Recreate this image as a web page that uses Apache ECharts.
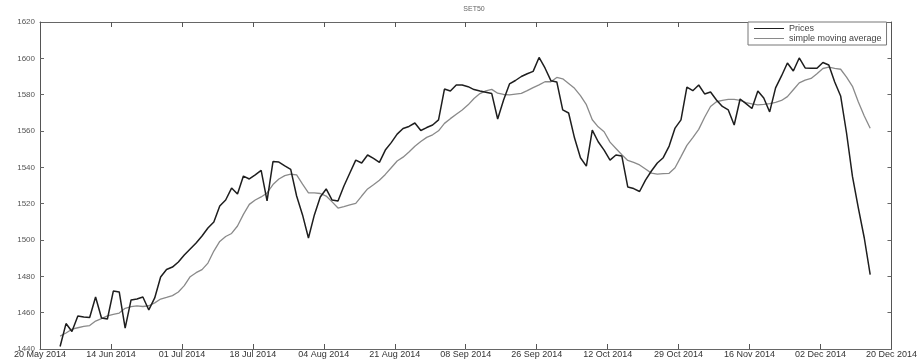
<!DOCTYPE html>
<html>
<head>
<meta charset="utf-8">
<script src="https://cdn.jsdelivr.net/npm/echarts@6/dist/echarts.min.js"></script>
<style>
html,body{margin:0;padding:0;background:#fff;}
#chart{width:920px;height:359px;}
</style>
</head>
<body>
<div id="chart"></div>
<script>
const TITLE = 'SET50';
const X_TICK_LABELS = ['20 May 2014','14 Jun 2014','01 Jul 2014','18 Jul 2014','04 Aug 2014','21 Aug 2014','08 Sep 2014','26 Sep 2014','12 Oct 2014','29 Oct 2014','16 Nov 2014','02 Dec 2014','20 Dec 2014'];
const SERIES_NAMES = ['Prices', 'simple moving average'];
const prices = [
1441.4,1454.0,1449.6,1458.2,1457.6,1457.3,1468.6,1457.1,1456.5,1471.9,
1471.4,1451.5,1467.0,1467.5,1468.6,1461.5,1468.1,1479.6,1483.8,1485.1,
1487.9,1491.7,1495.0,1498.3,1502.2,1506.6,1509.9,1518.7,1522.0,1528.6,
1525.3,1535.2,1533.6,1535.8,1538.3,1521.5,1543.2,1542.9,1540.8,1538.9,
1524.2,1513.8,1501.1,1513.8,1523.7,1528.1,1522.0,1521.5,1529.7,1536.9,
1544.0,1542.4,1546.8,1544.9,1542.7,1549.5,1553.6,1558.3,1561.4,1562.5,
1564.4,1560.3,1561.9,1563.3,1566.1,1583.1,1582.0,1585.3,1585.3,1584.4,
1582.8,1582.0,1581.3,1580.6,1566.6,1577.1,1585.9,1587.8,1590.0,1591.5,
1592.8,1600.5,1594.7,1587.7,1587.0,1571.6,1569.9,1556.1,1545.3,1540.7,
1560.5,1554.1,1549.5,1544.0,1546.8,1546.2,1529.2,1528.3,1526.7,1533.0,
1538.0,1542.4,1545.3,1551.7,1561.6,1566.1,1584.2,1582.2,1585.3,1580.4,
1581.5,1577.1,1573.5,1571.6,1563.3,1577.6,1575.1,1572.4,1582.0,1578.2,
1570.5,1583.7,1590.3,1597.4,1593.0,1600.2,1594.7,1594.5,1594.5,1597.7,
1596.3,1587.0,1579.3,1558.9,1535.0,1517.6,1501.1,1481.0
];
const movingAverage = [
1447.1,1448.8,1450.9,1451.7,1452.4,1452.9,1455.4,1456.7,1458.2,1459.0,
1459.8,1462.4,1463.3,1463.7,1463.4,1463.8,1465.4,1467.5,1468.4,1469.4,
1471.4,1474.9,1479.8,1482.0,1483.7,1487.3,1493.9,1499.2,1501.9,1503.6,
1507.7,1514.1,1519.6,1522.0,1523.7,1525.9,1530.5,1533.6,1535.4,1536.2,
1535.8,1530.8,1526.0,1525.9,1525.6,1524.2,1521.0,1517.6,1518.4,1519.3,
1520.2,1524.2,1528.1,1530.4,1532.9,1536.1,1539.8,1543.5,1545.6,1548.4,
1551.6,1554.2,1556.5,1557.9,1560.1,1564.2,1566.8,1569.2,1571.6,1574.4,
1577.9,1580.6,1582.1,1582.9,1580.8,1580.1,1579.9,1580.3,1580.7,1582.2,
1583.9,1585.4,1587.1,1587.1,1589.5,1588.7,1586.1,1583.5,1579.5,1574.5,
1566.2,1562.3,1559.6,1553.9,1550.4,1546.9,1543.8,1542.7,1541.3,1539.1,
1536.8,1536.3,1536.5,1536.7,1539.8,1545.9,1552.1,1556.4,1560.9,1567.6,
1573.5,1576.1,1576.9,1577.4,1577.4,1576.9,1575.6,1574.9,1574.4,1574.7,
1575.1,1575.8,1576.8,1578.9,1582.7,1586.5,1588.0,1588.9,1591.5,1594.4,
1595.1,1594.5,1594.0,1589.7,1584.6,1576.0,1568.3,1561.5
];
const X_MIN = 0, X_MAX = 144, X_STEP = 12, X_OFFSET = 3.4;
const Y_MIN = 1440, Y_MAX = 1620, Y_STEP = 20;

const chart = echarts.init(document.getElementById('chart'), null, {renderer: 'canvas'});
const toPairs = arr => arr.map((v, i) => [i + X_OFFSET, v]);
const baseX = {
  type: 'value', min: X_MIN, max: X_MAX, interval: X_STEP,
  splitLine: {show: false},
  axisLine: {show: true, onZero: false, lineStyle: {color: '#666', width: 1}},
  axisTick: {show: true, inside: true, length: 5, lineStyle: {color: '#555'}},
};
const baseY = {
  type: 'value', min: Y_MIN, max: Y_MAX, interval: Y_STEP,
  splitLine: {show: false},
  axisLine: {show: true, onZero: false, lineStyle: {color: '#555', width: 1}},
  axisTick: {show: true, inside: true, length: 4, lineStyle: {color: '#666'}},
};
chart.setOption({
  animation: false,
  backgroundColor: '#fff',
  title: {
    text: TITLE, left: 469, top: 1, textAlign: 'center',
    textStyle: {fontSize: 7, fontWeight: 'normal', color: '#666', fontFamily: 'Liberation Sans'}
  },
  legend: {
    orient: 'vertical', left: 748, top: 22,
    padding: [2, 5, 2, 6],
    itemGap: 1, itemWidth: 30, itemHeight: 8,
    borderColor: '#777', borderWidth: 1,
    backgroundColor: '#fff',
    textStyle: {fontSize: 9, color: '#444', fontFamily: 'Liberation Sans'},
    data: SERIES_NAMES.map(n => ({name: n, icon: 'path://M0,4L30,4L30,5L0,5Z'}))
  },
  grid: {left: 40, right: 23, top: 22, bottom: 10, containLabel: false},
  xAxis: [
    Object.assign({}, baseX, {
      position: 'bottom',
      axisLabel: {
        show: true, margin: 1, fontSize: 9, color: '#333', fontFamily: 'Liberation Sans',
        showMinLabel: true, showMaxLabel: true, hideOverlap: false,
        formatter: v => X_TICK_LABELS[Math.round((v - X_MIN) / X_STEP)] || ''
      }
    }),
    Object.assign({}, baseX, {position: 'top', axisLabel: {show: false}})
  ],
  yAxis: [
    Object.assign({}, baseY, {
      position: 'left',
      axisLabel: {show: true, margin: 5, fontSize: 8, color: '#555', fontFamily: 'Liberation Sans',
        formatter: v => String(v)}
    }),
    Object.assign({}, baseY, {position: 'right', axisLabel: {show: false}})
  ],
  series: [
    {
      name: SERIES_NAMES[0], type: 'line', data: toPairs(prices),
      showSymbol: false, symbol: 'none', smooth: false,
      lineStyle: {color: '#1e1e1e', width: 1.5},
      itemStyle: {color: '#1e1e1e'}, z: 3
    },
    {
      name: SERIES_NAMES[1], type: 'line', data: toPairs(movingAverage),
      showSymbol: false, symbol: 'none', smooth: false,
      lineStyle: {color: '#8a8a8a', width: 1.3},
      itemStyle: {color: '#8a8a8a'}, z: 2
    }
  ]
});
</script>
</body>
</html>
